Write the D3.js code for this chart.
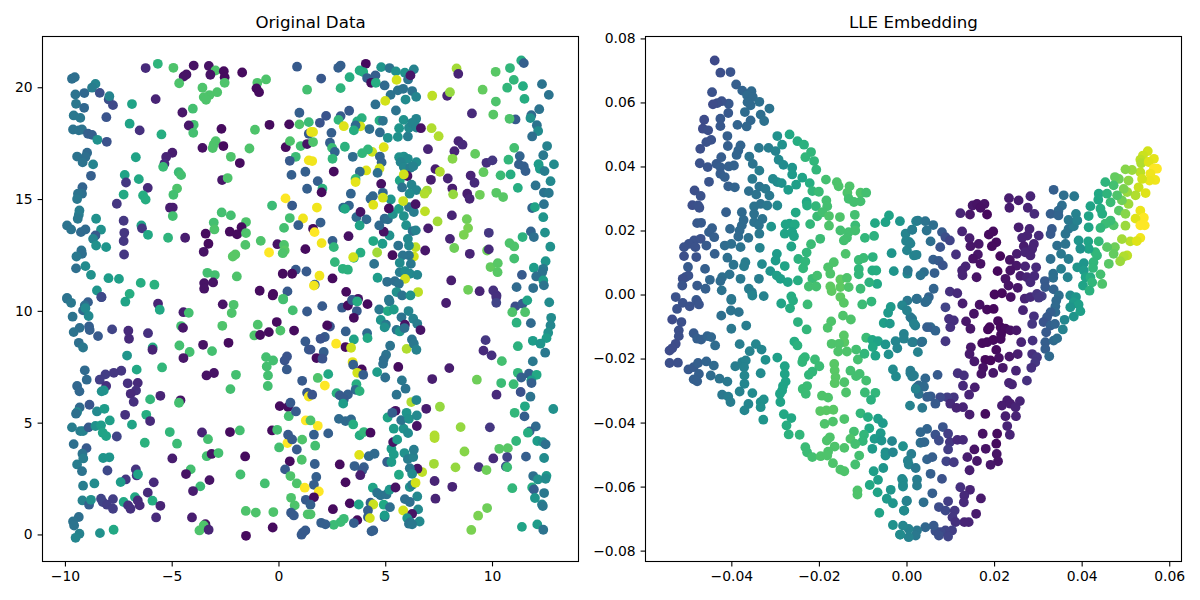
<!DOCTYPE html>
<html><head><meta charset="utf-8">
<script src="https://cdnjs.cloudflare.com/ajax/libs/d3/7.8.5/d3.min.js"></script>
<style>html,body{margin:0;padding:0;background:#fff}svg{display:block}
text{font-family:"DejaVu Sans",sans-serif;fill:#000}</style></head><body>
<div id="chart"></div>
<script>
// Each record: [x, y, colour value]
const origUpperLeft=[[-9.67,20.38,.36],[-9.54,20.45,.36],[-9.51,19.68,.38],[-9.48,19.26,.4],[-9.09,19.74,.33],[-9.59,18.74,.4],[-9.28,18.63,.4],[-9.10,19.08,.33],[-9.62,18.11,.38],[-9.35,18.07,.38],[-9.20,18.11,.38],[-8.92,17.92,.3],[-8.73,17.87,.3],[-9.43,16.90,.38],[-8.96,17.07,.34],[-9.04,16.88,.36],[-9.17,16.64,.38],[-8.68,16.55,.45],[-8.78,16.04,.3],[-9.18,15.53,.32],[-9.2,15.24,.36],[-9.39,15.24,.38],[-9.43,15.0,.4],[-9.32,14.49,.42],[-9.35,14.30,.42],[-9.40,14.12,.4],[-9.90,13.82,.38],[-9.71,13.64,.38],[-9.25,13.52,.34],[-9.04,13.64,.34],[-8.54,14.12,.5],[-8.31,13.63,.5],[-8.57,13.37,.28],[-8.68,13.22,.45],[-8.54,12.92,.5],[-8.07,12.85,.52],[-9.23,12.70,.38],[-9.2,12.55,.36],[-9.46,12.43,.4],[-9.48,11.90,.36],[-9.04,12.0,.48],[-8.78,11.61,.5],[-7.96,11.46,.55],[-7.47,11.43,.56],[-8.5,10.91,.52],[-9.9,10.58,.38],[-8.29,10.61,.22],[-8.57,20.15,.45],[-8.73,19.98,.42],[-8.37,19.75,.24],[-7.95,19.45,.24],[-7.75,19.2,.22],[-7.92,19.6,.45],[-8.06,18.66,.26],[-8.48,17.65,.5],[-8.04,17.56,.25],[-6.86,19.25,.58],[-6.97,18.37,.58],[-6.5,18.07,.14],[-5.48,17.89,.62],[-6.68,16.87,.58],[-7.2,16.08,.58],[-6.54,15.89,.6],[-7.14,15.74,.16],[-6.12,15.5,.12],[-7.25,15.2,.6],[-7.57,14.79,.16],[-6.34,15.16,.62],[-6.22,14.98,.62],[-7.25,14.03,.16],[-6.42,13.82,.58],[-6.39,13.69,.16],[-7.22,13.49,.16],[-6.11,13.40,.6],[-7.25,13.12,.16],[-7.23,12.52,.16],[-6.45,11.25,.62],[-5.81,11.17,.64],[-6.97,10.76,.62],[-6.22,20.86,.12],[-5.65,21.05,.65],[-4.92,20.87,.72],[-3.97,20.97,.05],[-3.26,20.95,.05],[-2.95,20.75,.72],[-4.44,20.48,.05],[-4.31,20.57,.05],[-3.19,20.56,.05],[-2.56,20.72,.03],[-2.52,20.45,.03],[-4.65,20.18,.72],[-2.52,20.2,.72],[-1.70,20.66,.03],[-.58,20.35,.72],[-.99,20.2,.72],[-1.03,19.95,.03],[-.91,19.78,.03],[.87,20.92,.28],[1.34,19.89,.7],[-3.56,19.98,.72],[-2.87,19.78,.72],[-3.23,19.65,.72],[-3.50,19.56,.72],[-3.39,19.44,.72],[-5.75,19.47,.1],[-4.5,18.87,.06],[-4.01,19.04,.7],[-3.97,18.32,.7],[-4.2,18.29,.06],[-3.99,17.96,.7],[-2.67,18.14,.03],[-1.1,18.1,.72],[-.42,18.32,.03],[.5,18.34,.03],[.98,18.86,.3],[.98,18.34,.72],[1.42,18.44,.68],[-2.94,17.59,.72],[-3.03,17.44,.72],[-3.08,17.28,.72],[-3.56,17.29,.04],[-2.58,17.37,.03],[-1.36,17.26,.72],[-2.23,16.89,.72],[-1.81,16.61,.03],[-4.97,17.07,.08],[-5.26,16.88,.1],[-5.34,16.58,.12],[-5.40,16.44,.68],[-4.67,16.2,.68],[-4.56,16.07,.7],[-2.64,15.85,.06],[-2.38,15.94,.72],[-4.75,15.47,.72],[-4.92,15.19,.7],[-5.08,14.61,.08],[-4.95,14.62,.08],[-4.95,14.24,.7],[-2.66,14.4,.7],[-2.23,14.27,.7],[-3.03,13.95,.7],[-3.0,13.64,.72],[-1.52,13.97,.72],[-1.73,13.74,.03],[-2.28,13.54,.03],[-1.94,13.42,.03],[-1.52,13.48,.72],[-3.41,13.45,.03],[-4.37,13.27,.08],[-5.17,13.27,.65],[-3.28,13.0,.03],[-3.5,12.64,.05],[-1.55,12.95,.72],[-.83,13.13,.72],[-.05,12.98,.05],[.26,12.95,.72],[.29,12.70,.74],[.2,12.58,.72],[1.26,12.76,.03],[-.44,12.61,1],[-2.02,12.52,.74],[-2.14,12.43,.74],[-3.33,11.70,.7],[-2.98,11.6,.7],[-1.95,11.54,.72],[-3.48,11.24,.05],[-3.06,11.27,.05],[-3.48,10.99,.05],[-.88,10.9,.03],[-.25,10.76,.03],[.42,10.87,.28],[.2,11.66,.03],[.81,11.84,.28],[.64,11.66,.03],[1.31,11.76,.28],[.22,10.54,.72],[.34,17.32,.03],[.54,17.59,.72],[1.04,17.37,.7],[1.34,17.46,.05],[.81,16.89,.68],[.53,16.71,.28],[.61,16.08,.3],[1.26,16.22,.3],[1.34,15.46,.3],[1.42,16.73,.98],[.33,15.03,1],[-.3,14.71,.68],[.64,14.71,.28],[1.15,14.13,.98],[.53,14.15,.7],[.93,13.83,.3],[.26,13.71,.7],[1.42,17.92,.28],[1.53,18.0,.98]];
const origUpperRight=[[2.91,20.97,.3],[2.8,20.87,.3],[2.0,20.39,.27],[3.33,20.45,.62],[2.91,19.96,.65],[4.09,21.05,.03],[3.8,20.75,.62],[3.97,20.68,.62],[4.81,20.9,.52],[5.2,20.86,.38],[5.5,20.71,.5],[5.92,20.65,.5],[6.34,20.8,.44],[4.15,20.41,.3],[4.54,20.53,.3],[4.34,20.2,.03],[4.56,20.2,.62],[4.97,20.08,.34],[5.53,20.33,.93],[6.07,20.35,.38],[6.18,20.53,.06],[5.25,19.66,.38],[5.59,19.86,.38],[5.84,19.93,.38],[6.26,19.83,.38],[6.45,19.57,.45],[5.95,19.45,.48],[5.0,19.39,.93],[4.54,19.23,.36],[5.5,18.96,.38],[7.2,19.62,.9],[7.9,19.62,.1],[8.03,19.78,.84],[8.34,20.84,.86],[8.42,20.6,.1],[9.56,19.89,.76],[10.17,20.69,.74],[10.84,20.86,.66],[11.37,21.2,.62],[11.49,21.08,.3],[11.02,20.33,.66],[10.71,19.98,.66],[11.45,20.05,.62],[12.34,20.14,.38],[12.66,19.66,.38],[11.52,19.48,.62],[10.18,19.36,.72],[10.06,18.78,.74],[9.06,18.83,.12],[12.21,19.02,.38],[11.84,18.75,.34],[11.8,18.62,.5],[11.1,18.56,.28],[10.82,18.59,.72],[12.1,18.3,.38],[12.16,18.04,.48],[11.88,17.8,.36],[2.23,18.72,.26],[1.94,18.41,.26],[2.91,18.71,.28],[2.81,18.54,.66],[3.31,18.95,.28],[3.06,18.26,.95],[1.62,18.0,.96],[2.48,17.96,.3],[2.41,17.52,.3],[1.62,17.55,.72],[2.51,17.29,.68],[2.64,17.11,.32],[2.53,16.8,.66],[3.11,17.34,.64],[3.48,16.89,.35],[3.9,18.62,.64],[3.69,18.47,.62],[3.84,18.25,.93],[3.61,18.29,.34],[3.53,18.07,.62],[4.26,18.13,.36],[4.75,17.98,.34],[4.73,18.51,.62],[4.89,18.5,.38],[5.12,17.74,.5],[5.59,17.78,.5],[5.65,18.17,.52],[5.86,18.54,.5],[6.06,17.8,.42],[6.11,18.19,.47],[6.45,18.59,.45],[6.26,18.41,.45],[6.46,18.2,.45],[6.67,18.17,.05],[7.17,18.17,.88],[7.5,17.81,.88],[7.0,17.23,.1],[8.43,17.59,.1],[8.62,17.43,.12],[8.24,17.14,.1],[8.15,16.8,.82],[4.93,17.32,.95],[4.39,17.11,.92],[4.19,17.22,.66],[3.92,17.05,.66],[4.75,16.9,.32],[4.83,16.64,.32],[4.73,16.37,.93],[4.11,16.28,.95],[3.81,16.22,.34],[4.64,16.17,.36],[3.61,15.9,.66],[3.61,15.76,.96],[2.59,16.23,.03],[1.84,15.8,.3],[2.06,15.46,.64],[2.02,15.3,.03],[1.58,16.7,.98],[4.81,15.68,.04],[5.65,16.87,.5],[5.87,16.9,.5],[6.06,16.8,.48],[5.72,16.65,.45],[5.87,16.43,.46],[6.18,16.4,.42],[6.46,16.65,.48],[6.31,16.46,.44],[6.04,16.03,.05],[5.68,15.83,.58],[5.87,16.1,.93],[6.23,15.64,.45],[5.79,15.52,.38],[6.46,15.4,.46],[6.14,15.24,.48],[5.26,14.98,.52],[7.35,16.34,.08],[7.56,16.22,.88],[7.14,15.86,.08],[7.93,15.92,.1],[8.14,15.47,.08],[6.96,15.38,.86],[6.84,15.24,.88],[8.18,15.21,.84],[8.84,15.24,.08],[8.95,15.01,.1],[9.0,16.05,.1],[9.18,15.73,.12],[9.43,15.19,.78],[9.6,16.2,.76],[9.21,17.02,.76],[9.74,16.62,.14],[10.02,16.73,.16],[10.77,16.76,.66],[10.4,16.06,.68],[10.87,16.1,.62],[11.04,17.29,.7],[11.3,16.92,.32],[11.26,16.55,.3],[11.49,16.46,.3],[11.57,16.25,.3],[11.21,15.5,.62],[10.2,15.28,.74],[10.52,15.09,.74],[12.58,17.37,.44],[12.4,16.96,.4],[12.18,16.56,.55],[12.24,16.35,.55],[12.46,16.25,.42],[12.9,16.55,.48],[12.74,15.8,.47],[12.04,15.61,.38],[12.43,15.29,.38],[12.66,15.27,.4],[11.88,14.6,.32],[12.01,14.64,.58],[12.43,14.77,.38],[12.4,14.19,.52],[11.82,13.55,.32],[11.96,13.3,.36],[12.48,13.5,.5],[11.43,13.3,.64],[10.82,13.03,.72],[11.04,12.88,.72],[12.73,12.87,.5],[11.04,12.34,.7],[12.51,12.22,.52],[11.96,11.93,.55],[12.4,11.88,.4],[12.35,11.73,.38],[11.4,11.61,.28],[12.07,11.54,.36],[12.4,11.36,.55],[12.43,11.14,.38],[11.15,11.06,.34],[11.93,11.02,.36],[9.85,13.49,.16],[8.03,13.22,.1],[8.82,14.1,.78],[8.88,13.7,.8],[8.68,13.4,.8],[8.12,14.27,.1],[7.45,14.0,.86],[6.86,14.45,.9],[7.01,13.69,.08],[8.23,12.81,.78],[8.96,12.55,.1],[9.77,12.7,.78],[9.85,12.75,.12],[9.93,11.96,.76],[10.27,12.13,.74],[10.26,11.73,.74],[8.09,11.36,.08],[8.88,10.94,.78],[9.42,10.88,.1],[10.06,10.91,.14],[10.21,10.69,.14],[6.87,12.7,.06],[6.54,10.84,.9],[6.42,12.85,.9],[6.06,13.22,.47],[6.11,12.92,.47],[5.61,12.92,.38],[6.34,12.43,.93],[6.11,12.48,.38],[5.82,12.48,.38],[5.34,12.49,.03],[5.68,12.15,.48],[6.2,12.1,.4],[5.68,11.73,.42],[5.92,11.78,.48],[6.15,11.66,.47],[6.5,11.61,.46],[5.93,11.43,.93],[5.09,11.3,.36],[5.45,11.33,.36],[5.64,11.21,.38],[5.53,10.84,.5],[5.79,10.69,.38],[6.18,10.69,.5],[4.64,11.48,.55],[4.48,12.1,.38],[2.64,12.18,.66],[3.01,11.88,.64],[3.25,11.84,.64],[3.53,12.37,.66],[3.84,12.6,.62],[4.62,12.61,.86],[4.44,13.12,.6],[4.87,13.0,.55],[5.2,13.37,.5],[4.93,13.54,.05],[4.72,13.82,.34],[4.97,14.12,.34],[5.12,14.09,.36],[5.36,14.33,.5],[5.64,14.56,.55],[5.87,14.24,.5],[6.11,14.64,.38],[6.34,14.42,.42],[5.98,13.83,.5],[6.28,13.57,.38],[6.43,13.6,.44],[5.84,14.91,.92],[6.42,14.77,.05],[5.17,14.58,.03],[4.89,15.28,.34],[4.42,15.13,.33],[4.31,15.01,.33],[4.89,15.06,.93],[4.44,14.74,.95],[3.39,15.24,.32],[3.3,14.71,.32],[3.03,14.61,.34],[3.11,14.56,.6],[1.8,14.62,.98],[3.65,14.19,.34],[3.84,14.42,.05],[4.12,14.09,.34],[3.8,13.82,.58],[1.97,13.95,.3],[1.62,13.67,.03],[1.69,13.52,1],[2.02,13.03,.98],[2.53,13.13,.3],[2.59,12.85,.66],[3.28,13.34,.04],[1.92,11.57,.98],[2.53,11.45,.03],[1.7,11.17,.3],[1.66,11.13,.98],[3.17,10.85,.03],[3.73,10.54,.05],[3.45,10.49,.3],[3.5,12.4,.93],[5.17,10.5,.4]];
const origLowerLeft=[[-9.9,10.54,.38],[-9.71,10.36,.4],[-8.92,10.39,.3],[-9.07,10.24,.36],[-9.15,10.02,.34],[-9.04,10.12,.47],[-8.89,9.77,.47],[-9.64,9.74,.38],[-9.31,9.24,.36],[-9.59,9.05,.38],[-8.87,9.3,.3],[-8.84,9.14,.3],[-8.45,8.87,.28],[-9.35,8.57,.36],[-9.15,8.36,.4],[-7.79,9.17,.2],[-8.29,10.62,.22],[-7.17,10.41,.58],[-5.64,10.32,.1],[-5.56,10.05,.6],[-7.03,9.11,.12],[-7.0,8.75,.12],[-6.11,9.0,.14],[-5.89,8.36,.62],[-5.9,8.26,.1],[-7.09,8.0,.52],[-4.45,9.94,.08],[-4.2,9.91,.7],[-2.61,10.29,.05],[-2.1,10.27,.72],[-2.19,9.9,.72],[-4.56,9.32,.7],[-4.47,9.24,.06],[-2.63,9.33,.72],[-.97,9.38,.72],[-.08,9.5,.03],[-.45,9.05,.03],[-1.13,8.9,.72],[-.86,8.92,.03],[.09,9.12,.72],[.73,9.12,.03],[.22,10.51,.7],[.67,10.02,.7],[-.27,10.69,.03],[1.34,9.97,.28],[-4.64,8.45,.7],[-4.16,8.16,.7],[-3.53,8.48,.05],[-2.34,8.57,.03],[-3.11,8.2,.7],[-4.45,7.89,.06],[-.58,7.93,.7],[-.25,7.78,.7],[.4,7.96,.26],[.29,7.78,.26],[.39,7.38,.28],[1.26,8.63,.28],[1.42,8.27,.28],[-.55,7.51,.7],[-.49,7.11,.7],[-.5,6.64,.7],[-5.45,7.47,.66],[-6.64,7.37,.6],[-7.36,7.32,.16],[-7.71,7.23,.16],[-8.1,7.16,.18],[-8.37,6.92,.18],[-9.07,7.34,.34],[-8.98,6.92,.34],[-9.43,6.64,.33],[-9.32,6.4,.33],[-8.07,6.64,.14],[-8.18,6.44,.52],[-8.28,6.4,.5],[-7.06,6.76,.14],[-6.59,6.78,.12],[-6.67,6.44,.14],[-6.92,6.29,.12],[-6.78,5.93,.14],[-5.53,6.2,.1],[-6.01,6.04,.66],[-4.59,6.0,.05],[-4.66,5.89,.7],[-3.37,7.11,.05],[-3.02,7.22,.05],[-1.99,7.14,.7],[-2.25,6.5,.7],[.06,5.74,.03],[.45,5.7,.03],[.56,5.89,.28],[.48,5.29,.7],[.82,5.5,.28],[1.11,6.87,.28],[1.34,6.34,.28],[1.42,6.17,.98],[-8.85,5.8,.26],[-9.31,5.68,.34],[-9.43,5.47,.47],[-9.48,5.4,.36],[-8.5,5.5,.47],[-8.15,5.62,.55],[-7.9,5.1,.56],[-7.18,5.35,.14],[-6.19,5.35,.62],[-6.01,5.07,.12],[-6.86,4.91,.58],[-9.67,4.79,.42],[-9.28,4.62,.42],[-9.15,4.62,.44],[-8.89,4.79,.28],[-8.57,4.85,.5],[-8.31,4.88,.55],[-8.23,4.55,.58],[-8.07,4.4,.58],[-7.57,4.38,.2],[-6.26,4.1,.64],[-5.09,4.58,.66],[-4.75,4.06,.68],[-3.58,4.56,.1],[-3.3,4.26,.7],[-2.27,4.58,.03],[-1.81,4.65,.7],[-.3,4.65,.03],[-.06,4.68,.7],[1.28,5.1,1],[.42,4.09,1],[.45,4.46,.28],[.64,4.25,.28],[1.11,4.24,.72],[.03,3.89,.7],[.86,3.8,.28],[-9.59,4.04,.36],[-8.99,3.86,.28],[-9.18,3.61,.38],[-9.14,3.4,.42],[-9.43,3.13,.42],[-9.2,2.83,.38],[-8.21,3.42,.52],[-7.92,3.45,.52],[-8.01,2.86,.22],[-9.15,2.18,.42],[-8.62,2.28,.48],[-6.68,2.91,.15],[-6.64,2.64,.15],[-6.58,2.69,.58],[-7.15,2.46,.16],[-7.39,2.34,.55],[-5.84,2.33,.12],[-4.97,3.4,.08],[-3.36,3.5,.7],[-3.13,3.6,.05],[-2.81,3.64,.7],[-1.56,3.49,.03],[-4.11,2.91,.7],[-4.33,2.7,.05],[-3.23,2.43,.05],[-3.66,2.15,.68],[-4.0,1.94,.08],[-1.78,2.68,.7],[-.64,2.28,.7],[.53,3.27,.03],[1.09,3.34,.72],[.31,2.91,.28],[.56,2.61,.72],[.86,2.28,.72],[1.23,2.09,1],[.59,1.64,.72],[.76,1.3,.72],[1.28,1.55,.28],[.59,.97,.28],[.72,.85,.28],[1.37,.9,.72],[-1.53,1.05,.72],[-1.06,.98,.72],[-.24,1.0,.72],[-.27,.31,.03],[-1.52,-.06,.03],[1.14,.08,.28],[1.08,-.01,.28],[1.26,.18,.28],[-4.05,.76,.08],[-3.42,.46,.05],[-3.5,.4,.72],[-3.7,.18,.72],[-3.27,.21,.1],[-5.73,.76,.12],[-9.18,1.52,.44],[-8.87,1.33,.3],[-8.78,1.55,.5],[-8.31,1.6,.2],[-8.23,1.45,.2],[-8.03,1.33,.18],[-7.75,1.58,.18],[-7.75,1.15,.18],[-7.25,1.45,.6],[-7.04,1.3,.14],[-6.93,1.15,.14],[-6.72,1.67,.6],[-6.59,1.52,.12],[-6.5,1.3,.12],[-6.12,1.87,.12],[-5.9,1.51,.62],[-5.53,1.28,.1],[-9.35,.78,.36],[-9.62,.58,.38],[-9.57,.4,.38],[-9.32,.03,.44],[-9.5,-.15,.46],[-8.36,.06,.5],[-7.72,.21,.6]];
const origLowerRight=[[2.05,10.21,.28],[2.98,10.14,.28],[3.25,10.24,.03],[3.45,10.47,.3],[3.69,10.42,.62],[3.67,9.99,.28],[3.53,9.69,.03],[4.17,10.3,.03],[4.72,10.06,.4],[5.2,10.42,.4],[5.12,9.99,.6],[5.4,10.06,.55],[6.09,9.99,.45],[5.76,9.71,.38],[4.79,9.59,.52],[5.03,9.38,.4],[4.97,9.26,.5],[6.31,9.65,.44],[6.5,9.42,.42],[5.92,9.38,.05],[5.53,9.15,.38],[5.68,9.08,.52],[5.9,9.23,.36],[6.65,9.14,.05],[7.85,10.35,.08],[10.2,10.62,.14],[10.2,10.36,.2],[11.09,10.2,.24],[11.43,10.32,.28],[11.65,10.47,.58],[12.68,10.38,.48],[10.95,9.94,.72],[11.55,9.94,.72],[11.15,9.47,.64],[11.82,9.45,.34],[12.77,9.69,.48],[12.74,9.35,.46],[12.63,9.02,.5],[12.55,8.78,.55],[11.91,8.66,.55],[12.27,8.53,.52],[11.21,8.42,.64],[12.49,8.13,.4],[9.7,8.69,.16],[9.6,8.22,.12],[9.98,8.01,.14],[10.46,7.75,.7],[11.91,7.74,.4],[11.21,7.23,.66],[11.73,7.19,.3],[12.09,7.14,.6],[11.84,6.89,.55],[11.85,6.77,.3],[11.37,7.02,.3],[10.43,6.77,.68],[11.01,6.72,.68],[9.29,6.92,.78],[10.21,6.25,.12],[11.34,6.37,.25],[11.8,6.16,.38],[11.54,5.73,.6],[12.87,5.61,.5],[11.06,5.44,.66],[11.52,5.28,.3],[12.05,4.83,.34],[11.76,4.61,.3],[11.68,4.55,.62],[11.13,4.18,.66],[12.12,4.18,.55],[12.38,4.13,.5],[12.51,4.03,.36],[10.74,3.86,.74],[10.34,3.83,.74],[12.44,3.42,.48],[11.59,3.48,.3],[10.71,3.46,.2],[10.06,3.4,.12],[9.38,3.01,.14],[9.74,2.88,.78],[10.65,3.04,.25],[10.71,3.01,.68],[11.93,2.61,.36],[12.15,2.46,.5],[12.55,2.62,.54],[12.51,2.49,.48],[10.95,2.07,.66],[11.88,2.1,.62],[11.96,2.01,.3],[12.44,1.85,.4],[12.01,1.63,.52],[12.34,1.34,.45],[12.38,1.27,.4],[11.4,.34,.58],[12.12,.45,.55],[12.4,.21,.38],[9.03,.2,.8],[9.35,.84,.8],[9.77,1.18,.78],[7.31,2.39,.1],[8.14,2.13,.1],[7.35,1.6,.1],[8.29,3.0,.84],[7.28,3.16,.86],[8.71,3.71,.82],[7.31,4.43,.88],[7.31,4.31,.88],[8.53,4.8,.84],[9.9,4.79,.16],[7.56,5.71,.84],[6.92,5.62,.08],[7.2,6.95,.08],[8.0,7.44,.08],[5.61,7.49,.03],[5.0,7.02,.36],[5.78,6.89,.4],[5.95,6.52,.38],[5.53,6.25,.38],[6.22,5.92,.88],[6.46,6.01,.46],[6.0,8.3,.88],[6.25,8.72,.38],[6.34,8.53,.4],[6.46,8.26,.44],[5.23,8.44,.38],[5.04,8.04,.38],[4.93,7.83,.36],[4.9,7.63,.36],[4.62,7.26,.55],[4.15,9.0,.34],[4.17,8.78,.6],[3.53,8.72,.58],[3.15,9.08,.3],[2.41,9.3,.25],[2.28,9.35,.03],[2.17,8.83,.28],[1.97,8.75,.26],[2.7,8.53,1],[3.14,8.38,.03],[3.4,8.35,.92],[2.12,8.16,.3],[1.78,7.89,.03],[2.06,7.86,.26],[1.5,8.27,.26],[3.47,7.71,.96],[3.5,7.59,.3],[3.9,7.38,.03],[3.69,7.23,.93],[3.97,7.14,.3],[2.33,7.17,.6],[1.84,7.0,.72],[2.17,6.66,1],[3.65,6.72,.62],[3.61,6.47,.34],[3.8,6.41,.64],[3.25,6.26,.3],[2.72,6.32,.64],[2.87,6.22,.28],[3.06,6.04,.28],[3.03,5.85,.55],[1.58,6.25,.26],[2.83,5.17,.34],[3.14,5.07,.34],[3.4,5.14,.34],[3.5,4.92,.62],[1.84,4.86,1],[1.5,5.1,.72],[2.33,4.52,.3],[1.66,4.46,.3],[1.72,3.97,.7],[3.8,4.43,.62],[4.0,4.58,.66],[4.31,4.55,.03],[3.78,3.56,.95],[4.23,3.5,.34],[4.5,3.61,.34],[2.87,3.13,.03],[1.7,3.15,.3],[3.56,3.06,.3],[4.0,3.01,.3],[3.92,2.86,.28],[3.83,2.65,.08],[3.14,2.33,.03],[1.77,2.57,.3],[1.66,2.22,.3],[1.89,1.92,1],[1.66,1.66,.03],[1.5,1.33,.3],[2.55,1.13,.03],[3.34,1.39,.03],[3.76,1.34,.58],[4.31,1.42,.3],[4.44,1.34,.92],[4.19,1.07,.3],[4.19,.78,.3],[4.28,.73,.93],[3.69,.64,.03],[3.53,.51,.3],[3.06,.7,.68],[2.91,.55,.68],[2.59,.43,.68],[2,.52,.3],[2.2,.45,.3],[1.5,.9,.72],[4.44,.18,.3],[4.36,.14,.3],[4.97,.78,.3],[4.97,.85,.55],[4.93,1.33,.6],[5.22,1.22,.36],[4.42,2.09,.58],[4.62,1.86,.38],[4.78,1.75,.38],[5.06,1.79,.38],[5.2,2.0,.52],[5.48,2.1,.05],[5.64,2.67,.6],[6.15,2.12,.5],[6.26,2.22,.42],[6.42,2.31,.93],[6.5,1.7,.47],[5.92,1.58,.36],[6.15,1.45,.36],[5.84,1.07,.93],[6.54,1.12,.47],[6.26,.92,.05],[6.03,.73,.52],[6.18,.55,.4],[6.11,.48,.38],[6.61,.58,.47],[6.26,.45,.4],[6.73,2.79,.9],[6.51,2.94,.05],[6.15,2.96,.4],[6.26,2.71,.48],[5.29,3.83,.55],[5.4,3.58,.55],[5.09,3.24,.3],[5.29,3.24,.55],[5.9,3.64,.5],[6.06,3.37,.42],[6.31,3.46,.44],[6.34,3.79,.42],[5.37,4.13,.05],[5.56,4.24,.55],[5.4,4.73,.55],[5.86,4.73,.5],[6.07,4.53,.48],[6.48,4.85,.05],[5.11,5.23,.58],[5.48,5.53,.05],[5.33,5.44,.3],[5.75,5.11,.38],[6,5.44,.52],[6.11,5.17,.5],[6.48,5.32,.47]];
const lleUpperLeft=[[-.0438,.0731,.22],[-.0425,.0693,.24],[-.0402,.0695,.26],[-.0389,.0656,.3],[-.0444,.0632,.25],[-.0375,.0637,.32],[-.0354,.0635,.34],[-.0364,.0622,.34],[-.0351,.0617,.34],[-.0336,.0602,.36],[-.0363,.0601,.34],[-.0356,.0591,.34],[-.0369,.0570,.35],[-.0313,.0581,.38],[-.0333,.0562,.36],[-.0325,.0542,.37],[-.0356,.0544,.33],[-.0365,.0525,.33],[-.0386,.0530,.32],[-.0406,.0596,.27],[-.0422,.0604,.25],[-.0432,.0598,.24],[-.0442,.0594,.23],[-.0407,.0567,.27],[-.0425,.0549,.27],[-.0425,.0526,.27],[-.0462,.0546,.23],[-.0465,.0518,.23],[-.0453,.0513,.24],[-.0409,.0495,.3],[-.0446,.0483,.25],[-.0457,.0476,.25],[-.0471,.0455,.24],[-.0408,.0464,.3],[-.0379,.0466,.32],[-.0384,.0450,.32],[-.0388,.0436,.32],[-.0423,.0429,.29],[-.0337,.0458,.4],[-.0315,.0458,.42],[-.0299,.0448,.44],[-.0295,.0495,.5],[-.0267,.0500,.6],[-.0284,.0468,.5],[-.0249,.0479,.62],[-.0234,.0468,.64],[-.0218,.0445,.66],[-.0231,.0429,.66],[-.0211,.0417,.66],[-.0206,.0390,.66],[-.0359,.0431,.38],[-.0351,.0408,.38],[-.0292,.0421,.47],[-.0281,.0405,.48],[-.0261,.0396,.52],[-.0261,.0375,.54],[-.0472,.0410,.25],[-.0454,.0398,.26],[-.0434,.0408,.28],[-.0425,.0398,.29],[-.0406,.0400,.3],[-.0394,.0403,.31],[-.0425,.0377,.29],[-.0415,.0367,.3],[-.0451,.0352,.26],[-.0407,.0338,.3],[-.0392,.0335,.32],[-.0336,.0387,.42],[-.0352,.0361,.4],[-.0305,.0361,.47],[-.0295,.0351,.48],[-.0285,.0348,.5],[-.0270,.0327,.55],[-.0252,.0343,.56],[-.0238,.0365,.58],[-.0221,.0348,.62],[-.0215,.0323,.66],[-.0200,.0321,.68],[-.0184,.0359,.7],[-.0159,.0351,.72],[-.0155,.0338,.72],[-.0130,.0338,.72],[-.0135,.0318,.72],[-.0105,.0318,.72],[-.0092,.0318,.7],[-.0132,.0299,.7],[-.0120,.0289,.7],[-.0105,.0291,.7],[-.0484,.0325,.24],[-.0470,.0308,.25],[-.0489,.0279,.24],[-.0476,.0278,.25],[-.0473,.0271,.25],[-.0360,.0323,.36],[-.0343,.0312,.38],[-.0336,.0337,.38],[-.0322,.0330,.4],[-.0313,.0309,.4],[-.0348,.0275,.38],[-.0333,.0283,.38],[-.0318,.0278,.4],[-.0295,.0278,.47],[-.0228,.0289,.6],[-.0227,.0278,.62],[-.0207,.0276,.66],[-.0183,.0294,.7],[-.0181,.0276,.7],[-.0204,.0244,.68],[-.0192,.0257,.7],[-.0177,.0245,.72],[-.0152,.0242,.72],[-.0118,.0249,.7],[-.0253,.0256,.6],[-.0412,.0257,.3],[-.0376,.0257,.34],[-.0348,.0252,.37],[-.0329,.0236,.38],[-.0372,.0233,.34],[-.0348,.0226,.37],[-.0376,.0216,.34],[-.0337,.0216,.38],[-.0478,.0223,.27],[-.0469,.0224,.28],[-.0444,.0207,.3],[-.0451,.0195,.3],[-.0439,.0179,.3],[-.0403,.0205,.33],[-.0381,.0200,.34],[-.0384,.0181,.34],[-.0336,.0190,.4],[-.0361,.0177,.37],[-.0309,.0212,.52],[-.0276,.0219,.58],[-.0267,.0221,.58],[-.0255,.0219,.6],[-.0278,.0190,.58],[-.0261,.0195,.58],[-.0257,.0182,.58],[-.0220,.0220,.66],[-.0177,.0215,.72],[-.0151,.0200,.7],[-.0132,.0195,.7],[-.0117,.0216,.68],[-.0117,.0200,.7],[-.0136,.0177,.7],[-.0143,.0169,.7],[-.0095,.0177,.66],[-.0074,.0183,.64],[-.0072,.0223,.6],[-.0048,.0226,.58],[-.0040,.0247,.58],[-.0015,.0229,.53],[.0022,.0229,.45],[.0013,.0203,.45],[-.0002,.0190,.45],[-.0001,.0167,.45],[.0006,.0164,.45],[.0001,.0138,.45],[.0017,.0122,.45],[-.0034,.0129,.52],[-.0485,.0169,.25],[-.0497,.0158,.25],[-.0508,.0148,.25],[-.0482,.0148,.25],[-.0470,.0174,.25],[-.0457,.0153,.28],[-.0508,.0120,.24],[-.0480,.0117,.25],[-.0438,.0127,.3],[-.0415,.0153,.35],[-.0400,.0158,.36],[-.0379,.0148,.38],[-.0335,.0146,.45],[-.0263,.0150,.58],[-.0197,.0174,.68],[-.0218,.0157,.68],[-.0228,.0131,.66],[-.0139,.0127,.72],[-.0409,.0115,.36],[-.0395,.0093,.38],[-.0368,.0101,.42],[-.0371,.0088,.42],[-.0330,.0095,.48],[-.0460,.0080,.3],[-.0499,.0086,.28],[-.0505,.0054,.25],[-.0498,.0059,.25],[-.0511,.0049,.24],[-.0421,.0054,.36],[-.0404,.0063,.37],[-.0425,.0042,.35],[-.0449,.0046,.33],[-.0478,.0028,.28],[-.0459,.0018,.3],[-.0512,.0028,.26],[-.0422,.0013,.38],[-.0379,.0049,.4],[-.0337,.0049,.42],[-.0360,.0018,.42],[-.0353,.0007,.42],[-.0326,-.0005,.44],[-.0400,-.0014,.38],[-.0480,-.0017,.28],[-.0311,.0073,.52],[-.0296,.0127,.55],[-.0299,.0106,.55],[-.0278,.0089,.58],[-.0296,.0059,.56],[-.0288,.0049,.56],[-.0271,.0039,.58],[-.0248,.0044,.62],[-.0247,.0111,.64],[-.0231,.0103,.66],[-.0236,.0082,.66],[-.0215,.0049,.68],[-.0204,.0059,.7],[-.0223,.0025,.7],[-.0206,.0025,.7],[-.0179,.0085,.72],[-.0166,.0101,.72],[-.0174,.0065,.72],[-.0151,.0047,.75],[-.0136,.0052,.72],[-.0174,.0025,.75],[-.0171,.0011,.75],[-.0151,.0023,.75],[-.0132,.0023,.72],[-.0151,-.0008,.75],[-.0105,.0018,.68],[-.0109,.0108,.68],[-.0098,.0114,.68],[-.0077,.0117,.64],[-.0109,.0080,.66],[-.0109,.0063,.66],[-.0078,.0075,.62],[-.0069,.0075,.62],[-.0067,.0033,.6],[-.0085,.0038,.64],[-.0029,.0073,.52],[.0002,.0065,.46],[-.0263,-.0006,.62]];
const lleRight=[[.0551,.0448,.93],[.0540,.0434,.92],[.0534,.0421,.9],[.0536,.0410,.88],[.0565,.0424,.96],[.0553,.0414,.95],[.0572,.0393,1],[.0565,.0393,1],[.0568,.0358,.98],[.0557,.0377,.98],[.0555,.0356,.97],[.0534,.0382,.9],[.0538,.0361,.93],[.0515,.0389,.85],[.0500,.0391,.82],[.0507,.0356,.83],[.0485,.0361,.78],[.0476,.0367,.76],[.0530,.0335,.92],[.0546,.0317,.95],[.0523,.0310,.88],[.0504,.0320,.85],[.0496,.0330,.8],[.0507,.0283,.85],[.0492,.0294,.78],[.0481,.0310,.72],[.0473,.0341,.7],[.0454,.0351,.65],[.0439,.0315,.6],[.0438,.0296,.6],[.0458,.0315,.65],[.0466,.0288,.68],[.0485,.0262,.74],[.0443,.0268,.62],[.0447,.0252,.62],[.0420,.0276,.58],[.0416,.0245,.58],[.0500,.0252,.82],[.0534,.0262,.97],[.0542,.0240,1],[.0523,.0237,.95],[.0544,.0216,1],[.0534,.0216,1],[.0500,.0215,.85],[.0473,.0216,.72],[.0466,.0231,.68],[.0454,.0221,.68],[.0443,.0208,.66],[.0416,.0210,.58],[.0534,.0177,.98],[.0511,.0166,.9],[.0492,.0173,.86],[.0526,.0167,.95],[.0504,.0122,.9],[.0496,.0119,.88],[.0488,.0104,.85],[.0476,.0148,.78],[.0458,.0148,.74],[.0473,.0127,.76],[.0462,.0096,.74],[.0439,.0166,.66],[.0431,.0132,.66],[.0435,.0122,.66],[.0427,.0101,.66],[.0426,.0083,.66],[.0415,.0166,.58],[.0416,.0143,.58],[.0393,.0169,.52],[.0397,.0143,.5],[.0405,.0098,.52],[.0390,.0085,.52],[.0405,.0075,.54],[.0409,.0054,.58],[.0420,.0054,.62],[.0443,.0063,.7],[.0447,.0033,.72],[.0424,.0038,.66],[.0403,.0028,.58],[.0418,.0012,.64],[.0370,.0111,.42],[.0353,.0127,.4],[.0329,.0111,.36],[.0353,.0080,.42],[.0368,.0054,.44],[.0335,.0065,.36],[.0335,.0052,.36],[.0344,.0153,.36],[.0363,.0158,.38],[.0363,.0189,.38],[.0370,.0205,.38],[.0382,.0213,.42],[.0370,.0233,.4],[.0387,.0252,.44],[.0390,.0231,.44],[.0355,.0278,.36],[.0347,.0262,.34],[.0329,.0252,.3],[.0347,.0247,.32],[.0336,.0327,.3],[.0359,.0310,.36],[.0383,.0307,.4],[.0332,.0205,.28],[.0329,.0189,.28],[.0316,.0042,.28],[.0317,.0023,.28],[.0336,.0016,.32],[.0348,-.0003,.36],[.0342,-.0019,.34],[.0340,-.0037,.34],[.0340,-.0055,.34],[.0329,-.0055,.3],[.0321,-.0071,.28],[.0313,-.0086,.26],[.0329,-.0097,.3],[.0339,-.0092,.32],[.0319,-.0118,.28],[.0317,-.0149,.3],[.0317,-.0170,.3],[.0326,-.0193,.34],[.0336,-.0144,.34],[.0344,-.0137,.36],[.0357,-.0109,.44],[.0361,-.0079,.46],[.0382,-.0069,.52],[.0374,-.0003,.48],[.0387,-.0008,.52],[.0382,-.0024,.54],[.0393,-.0031,.56],[.0397,-.0052,.56],[.0374,-.0040,.52],[.0234,.0301,.08],[.0256,.0294,.08],[.0235,.0271,.08],[.0283,.0307,.1],[.0277,.0271,.1],[.0292,.0252,.12],[.0123,.0254,.1],[.0145,.0250,.06],[.0151,.0278,.06],[.0161,.0283,.05],[.0178,.0283,.05],[.0169,.0271,.04],[.0184,.0250,.02],[.0256,.0210,.08],[.0281,.0205,.1],[.0302,.0184,.12],[.0276,.0184,.1],[.0264,.0177,.1],[.0291,.0158,.1],[.0268,.0151,.08],[.0287,.0143,.1],[.0127,.0197,.1],[.0144,.0176,.08],[.0146,.0151,.06],[.0165,.0158,.06],[.0188,.0187,.03],[.0198,.0197,.03],[.0205,.0163,.03],[.0195,.0151,.03],[.0163,.0125,.06],[.0152,.0112,.05],[.0169,.0096,.04],[.0113,.0125,.14],[.0135,.0088,.1],[.0127,.0075,.1],[.0128,.0060,.1],[.0160,.0054,.05],[.0214,.0120,.02],[.0236,.0108,.05],[.0252,.0127,.08],[.0271,.0132,.1],[.0283,.0122,.1],[.0251,.0090,.06],[.0237,.0075,.05],[.0208,.0073,.02],[.0271,.0088,.1],[.0296,.0085,.12],[.0226,.0049,.05],[.0233,.0028,.05],[.0254,.0021,.06],[.0260,.0058,.08],[.0275,.0054,.1],[.0292,.0058,.12],[.0283,.0038,.12],[.0201,.0000,.02],[.0218,.0004,.02],[.0238,-.0008,.04],[.0270,-.0013,.1],[.0283,-.0008,.12],[.0298,.0002,.15],[.0309,-.0005,.18],[.0302,-.0010,.16],[.0099,.0009,.14],[.0116,.0004,.12],[.0128,-.0028,.08],[.0167,-.0032,.04],[.0184,-.0047,.03],[.0199,-.0045,.02],[.0154,-.0060,.05],[.0136,-.0084,.06],[.0146,-.0107,.06],[.0089,-.0040,.2],[.0097,-.0076,.14],[.0108,-.0081,.14],[.0100,-.0102,.14],[.0089,-.0146,.16],[.0190,-.0102,.02],[.0186,-.0109,.02],[.0209,-.0083,.02],[.0215,-.0102,.02],[.0226,-.0107,.03],[.0216,-.0125,.03],[.0237,-.0112,.04],[.0251,-.0112,.06],[.0266,-.0049,.1],[.0291,-.0068,.14],[.0287,-.0092,.16],[.0173,-.0152,.03],[.0184,-.0149,.03],[.0198,-.0142,.03],[.0215,-.0139,.03],[.0262,-.0149,.1],[.0288,-.0144,.14],[.0147,-.0165,.06],[.0144,-.0186,.07],[.0155,-.0209,.07],[.0205,-.0173,.03],[.0211,-.0198,.04],[.0235,-.0194,.06],[.0254,-.0186,.08],[.0180,-.0204,.02],[.0192,-.0206,.02],[.0175,-.0229,.04],[.0171,-.0248,.05],[.0198,-.0245,.06],[.0220,-.0229,.06],[.0250,-.0238,.1],[.0287,-.0186,.14],[.0298,-.0196,.16],[.0294,-.0212,.16],[.0285,-.0229,.14],[.0275,-.0269,.14],[.0234,-.0276,.1],[.0241,-.0281,.1],[.0117,-.0246,.14],[.0131,-.0253,.14],[.0129,-.0285,.12],[.0156,-.0290,.08],[.0143,-.0313,.1],[.0108,-.0321,.16],[.0093,-.0321,.18],[.0230,-.0331,.08],[.0259,-.0333,.1],[.0077,-.0321,.22],[.0055,-.0318,.28],[.0071,-.0251,.28],[.0043,-.0262,.33],[.0040,-.0288,.34],[.0023,-.0290,.36],[.0028,-.0311,.38],[.0013,-.0256,.42],[.0009,-.0238,.42],[.0026,.0231,.42],[.0043,.0229,.38],[.0061,.0217,.36],[.0013,.0202,.42],[.0046,.0200,.38],[.0081,.0195,.28],[.0089,.0179,.24],[.0099,.0169,.2],[.0055,.0166,.36],[.0077,.0148,.26],[.0023,.0124,.44],[.0009,.0159,.44],[.0061,.0109,.3],[.0074,.0105,.28],[.0083,.0091,.26],[.0064,.0067,.3],[.0040,.0070,.36],[.0032,.0060,.38],[.0062,.0018,.32],[.0023,-.0014,.4],[.0051,-.0008,.32],[.0043,-.0024,.34],[.0013,-.0076,.42],[.0020,-.0097,.42],[.0055,-.0102,.34],[.0066,-.0113,.32],[.0015,-.0149,.44],[.0036,-.0147,.4],[.0026,-.0180,.44],[.0047,-.0019,.35],[.0024,-.0013,.36],[.0002,-.0019,.4],[.0009,-.0071,.4],[.0047,-.0102,.3],[.0034,-.0149,.36],[.0003,.0075,.4],[.0028,-.0284,.34],[.0047,-.0320,.3]];
const lleLowerLeft=[[-.0527,-.0008,.25],[-.0524,-.0045,.25],[-.0511,-.0026,.25],[-.0495,-.0037,.25],[-.0478,-.0022,.26],[-.0474,-.0031,.26],[-.0535,-.0078,.23],[-.0514,-.0086,.24],[-.0520,-.0112,.24],[-.0520,-.0130,.24],[-.0527,-.0154,.23],[-.0535,-.0168,.23],[-.0541,-.0175,.23],[-.0486,-.0121,.28],[-.0478,-.0138,.3],[-.0469,-.0141,.3],[-.0455,-.0130,.32],[-.0446,-.0133,.33],[-.0437,-.0159,.35],[-.0423,-.0066,.36],[-.0401,-.0050,.38],[-.0383,-.0055,.38],[-.0400,-.0017,.4],[-.0400,-.0107,.4],[-.0366,-.0097,.42],[-.0352,-.0003,.45],[-.0381,-.0155,.42],[-.0358,-.0177,.44],[-.0344,-.0155,.46],[-.0331,-.0172,.46],[-.0322,-.0204,.5],[-.0295,-.0197,.56],[-.0541,-.0214,.24],[-.0522,-.0213,.24],[-.0498,-.0234,.27],[-.0486,-.0227,.28],[-.0476,-.0214,.3],[-.0457,-.0209,.32],[-.0440,-.0222,.34],[-.0474,-.0248,.3],[-.0486,-.0265,.3],[-.0478,-.0271,.3],[-.0447,-.0253,.35],[-.0427,-.0263,.38],[-.0409,-.0272,.4],[-.0391,-.0224,.42],[-.0375,-.0211,.43],[-.0367,-.0206,.44],[-.0371,-.0227,.44],[-.0370,-.0253,.46],[-.0370,-.0279,.46],[-.0333,-.0246,.48],[-.0381,-.0303,.44],[-.0352,-.0308,.48],[-.0421,-.0313,.4],[-.0407,-.0319,.42],[-.0402,-.0336,.42],[-.0326,-.0328,.5],[-.0333,-.0336,.5],[-.0333,-.0352,.5],[-.0361,-.0342,.46],[-.0370,-.0362,.46],[-.0327,-.0391,.52],[-.0286,-.0028,.58],[-.0266,-.0043,.62],[-.0259,-.0019,.62],[-.0226,-.0031,.68],[-.0248,-.0086,.64],[-.0228,-.0109,.66],[-.0256,-.0147,.62],[-.0249,-.0159,.64],[-.0172,-.0084,.72],[-.0180,-.0104,.72],[-.0143,-.0026,.74],[-.0145,-.0066,.72],[-.0127,-.0078,.72],[-.0101,-.0031,.68],[-.0080,-.0022,.66],[-.0036,-.0039,.54],[-.0042,-.0057,.54],[-.0052,-.0089,.56],[-.0038,-.0091,.54],[-.0010,-.0034,.46],[.0001,-.0050,.44],[.0017,-.0091,.44],[-.0092,-.0135,.68],[-.0143,-.0128,.74],[-.0142,-.0149,.74],[-.0171,-.0154,.72],[-.0154,-.0154,.72],[-.0156,-.0178,.72],[-.0136,-.0178,.72],[-.0115,-.0172,.7],[-.0111,-.0203,.7],[-.0096,-.0185,.66],[-.0078,-.0142,.6],[-.0065,-.0146,.58],[-.0077,-.0164,.6],[-.0071,-.0191,.58],[-.0048,-.0156,.52],[-.0041,-.0187,.5],[-.0025,-.0146,.46],[-.0021,-.0168,.46],[-.0006,-.0123,.44],[-.0006,-.0138,.44],[.0013,-.0149,.42],[-.0236,-.0201,.66],[-.0232,-.0196,.66],[-.0238,-.0211,.66],[-.0209,-.0203,.68],[-.0199,-.0224,.68],[-.0215,-.0241,.66],[-.0223,-.0251,.66],[-.0278,-.0224,.58],[-.0278,-.0248,.58],[-.0276,-.0272,.58],[-.0282,-.0286,.58],[-.0284,-.0300,.58],[-.0289,-.0310,.58],[-.0288,-.0336,.58],[-.0280,-.0374,.6],[-.0263,-.0386,.6],[-.0274,-.0409,.62],[-.0269,-.0437,.64],[-.0244,-.0438,.66],[-.0237,-.0295,.68],[-.0227,-.0286,.68],[-.0230,-.0310,.68],[-.0193,-.0316,.72],[-.0179,-.0322,.72],[-.0165,-.0217,.74],[-.0164,-.0237,.74],[-.0162,-.0258,.74],[-.0164,-.0277,.74],[-.0142,-.0274,.72],[-.0138,-.0306,.72],[-.0128,-.0238,.7],[-.0115,-.0255,.7],[-.0107,-.0248,.7],[-.0092,-.0269,.7],[-.0095,-.0306,.68],[-.0071,-.0307,.66],[-.0081,-.0329,.64],[-.0031,-.0234,.48],[-.0024,-.0256,.48],[.0009,-.0246,.42],[.0017,-.0253,.42],[.0021,-.0295,.44],[.0008,-.0347,.44],[-.0197,-.0364,.74],[-.0183,-.0362,.74],[-.0167,-.0360,.74],[-.0187,-.0404,.72],[-.0168,-.0397,.72],[-.0142,-.0389,.72],[-.0105,-.0371,.66],[-.0088,-.0383,.62],[-.0065,-.0388,.56],[-.0054,-.0402,.54],[-.0085,-.0418,.6],[-.0059,-.0433,.54],[-.0097,-.0438,.66],[-.0100,-.0458,.66],[-.0120,-.0428,.7],[-.0128,-.0451,.72],[-.0117,-.0467,.7],[-.0175,-.0446,.72],[-.0182,-.0456,.72],[-.0164,-.0475,.72],[-.0142,-.0479,.72],[-.0179,-.0491,.72],[-.0231,-.0477,.68],[-.0227,-.0493,.68],[-.0215,-.0508,.7],[-.0196,-.0505,.72],[-.0181,-.0503,.72],[-.0168,-.0527,.72],[-.0108,-.0503,.7],[-.0117,-.0531,.7],[-.0151,-.0547,.72],[-.0142,-.0552,.72],[-.0073,-.0451,.54],[-.0057,-.0456,.52],[-.0078,-.0482,.54],[-.0048,-.0493,.5],[-.0048,-.0503,.5],[-.0033,-.0458,.46],[-.0031,-.0493,.46],[-.0053,-.0542,.52],[-.0075,-.0552,.56],[-.0065,-.0579,.56],[-.0084,-.0595,.6],[-.0066,-.0618,.58],[-.0010,-.0576,.46],[-.0008,-.0595,.46],[-.0112,-.0612,.72],[-.0112,-.0625,.72],[-.0036,-.0610,.52],[-.0045,-.0638,.54],[-.0031,-.0652,.52],[.0001,-.0644,.46],[-.0005,-.0675,.48],[-.0062,-.0682,.58],[-.0031,-.0720,.5],[-.0015,-.0750,.48]];
const lleLowerMiddle=[[.0036,-.0354,.4],[.0066,-.0341,.28],[.0100,-.0341,.12],[.0114,-.0354,.1],[.0129,-.0352,.1],[.0144,-.0375,.08],[.0180,-.0373,.03],[.0218,-.0347,.08],[.0237,-.0341,.08],[.0249,-.0352,.1],[.0226,-.0380,.08],[.0250,-.0380,.1],[.0230,-.0411,.1],[.0236,-.0438,.1],[.0207,-.0435,.03],[.0174,-.0435,.04],[.0205,-.0466,.03],[.0155,-.0484,.05],[.0181,-.0482,.05],[.0206,-.0498,.05],[.0209,-.0521,.05],[.0192,-.0532,.06],[.0139,-.0508,.08],[.0161,-.0520,.06],[.0144,-.0549,.08],[.0083,-.0414,.26],[.0047,-.0420,.32],[.0032,-.0430,.33],[.0066,-.0438,.25],[.0095,-.0435,.18],[.0074,-.0456,.23],[.0099,-.0461,.16],[.0116,-.0454,.12],[.0129,-.0454,.12],[.0095,-.0484,.18],[.0032,-.0463,.36],[.0041,-.0461,.33],[-.0008,-.0474,.5],[.0011,-.0498,.42],[.0003,-.0519,.44],[.0005,-.0531,.44],[.0021,-.0542,.4],[.0047,-.0515,.32],[.0059,-.0508,.3],[.0091,-.0521,.2],[.0108,-.0524,.17],[.0055,-.0560,.3],[.0081,-.0576,.25],[.0024,-.0578,.42],[.0024,-.0597,.42],[-.0008,-.0581,.48],[-.0008,-.0600,.48],[.0059,-.0621,.3],[.0123,-.0602,.14],[.0145,-.0610,.1],[.0132,-.0628,.12],[.0131,-.0649,.12],[.0170,-.0637,.07],[.0095,-.0646,.18],[.0039,-.0649,.36],[.0000,-.0646,.44],[-.0006,-.0675,.48],[.0074,-.0664,.23],[.0089,-.0675,.22],[.0110,-.0675,.16],[.0105,-.0696,.16],[.0159,-.0685,.07],[.0142,-.0711,.1],[.0132,-.0711,.1],[.0112,-.0711,.14],[.0104,-.0737,.18],[.0089,-.0737,.2],[.0078,-.0742,.22],[.0066,-.0739,.24],[.0074,-.0753,.24],[.0095,-.0756,.2],[.0062,-.0722,.28],[.0043,-.0727,.33],[.0024,-.0737,.4],[.0021,-.0753,.4],[.0005,-.0758,.44],[.0005,-.0732,.44],[-.0008,-.0722,.46],[-.0014,-.0750,.48]];

const xTicksOrig=[-10,-5,0,5,10], yTicksOrig=[0,5,10,15,20];
const xTicksLle=[-0.04,-0.02,0,0.02,0.04,0.06], yTicksLle=[-0.08,-0.06,-0.04,-0.02,0,0.02,0.04,0.06,0.08];
const titles=["Original Data","LLE Embedding"];

const W=1200,H=600,plotTop=36.5,plotBottom=561.5,markerRadius=4.9;
const colour=d3.scaleSequential(d3.interpolateViridis).domain([0,1]);
const svg=d3.select("#chart").append("svg").attr("width",W).attr("height",H);

const panels=[
 {title:titles[0],left:42.5,right:578.5,xd:[-11.05,14.05],yd:[-1.21,22.27],xt:xTicksOrig,yt:yTicksOrig,xf:d3.format("d"),yf:d3.format("d"),
  data:[...origUpperLeft,...origUpperRight,...origLowerLeft,...origLowerRight]},
 {title:titles[1],left:645.5,right:1181.5,xd:[-0.0596,0.0628],yd:[-0.0834,0.0806],xt:xTicksLle,yt:yTicksLle,xf:d3.format(".2f"),yf:d3.format(".2f"),
  data:[...lleUpperLeft,...lleRight,...lleLowerLeft,...lleLowerMiddle]}
];

panels.forEach(p=>{
  const x=d3.scaleLinear().domain(p.xd).range([p.left,p.right]);
  const y=d3.scaleLinear().domain(p.yd).range([plotBottom,plotTop]);
  const g=svg.append("g");
  g.append("g").selectAll("circle").data(p.data).join("circle")
    .attr("cx",d=>x(d[0])).attr("cy",d=>y(d[1])).attr("r",markerRadius)
    .attr("fill",d=>colour(d[2]));
  const ax=g.append("g").attr("transform",`translate(0,${plotBottom})`)
    .call(d3.axisBottom(x).tickValues(p.xt).tickFormat(p.xf).tickSizeOuter(0).tickSize(4.9).tickPadding(4.9));
  const ay=g.append("g").attr("transform",`translate(${p.left},0)`)
    .call(d3.axisLeft(y).tickValues(p.yt).tickFormat(p.yf).tickSizeOuter(0).tickSize(4.9).tickPadding(4.9));
  [ax,ay].forEach(a=>{
    a.select(".domain").remove();
    a.selectAll("line").attr("stroke","#000").attr("stroke-width",1.1);
    a.selectAll("text").style("font-family",'"DejaVu Sans",sans-serif').style("font-size","13.9px").attr("fill","#000");
  });
  g.append("rect").attr("x",p.left).attr("y",plotTop).attr("width",p.right-p.left).attr("height",plotBottom-plotTop)
    .attr("fill","none").attr("stroke","#000").attr("stroke-width",1.1);
  g.append("text").attr("x",(p.left+p.right)/2).attr("y",28).attr("text-anchor","middle")
    .style("font-size","16.67px").text(p.title);
});
</script></body></html>
